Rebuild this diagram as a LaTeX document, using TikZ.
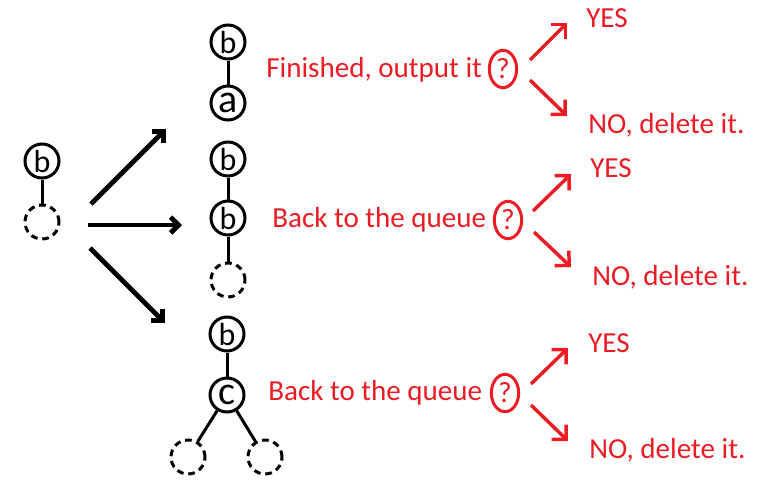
\documentclass[tikz,border=0pt]{standalone}
\usepackage{fontspec}
\setmainfont{Carlito}
\usetikzlibrary{arrows.meta,shapes.geometric}
\definecolor{pred}{RGB}{237,28,36}
\begin{document}
\begin{tikzpicture}[x=0.75pt,y=-0.75pt,
  tnode/.style={circle,draw=black,line width=2.25pt,minimum size=25.5pt,inner sep=0pt,
    font=\fontsize{24}{28}\selectfont},
  bigl/.style={font=\fontsize{30}{34}\selectfont},
  dnode/.style={circle,draw=black,line width=2.25pt,minimum size=25.5pt,inner sep=0pt,
    dash pattern=on 5pt off 3.6pt},
  edge/.style={line width=2.25pt},
  barrow/.style={line width=3.6pt,-{Straight Barb[angle=90:8.5pt]}},
  rarrow/.style={draw=pred,line width=2.6pt,-{Straight Barb[angle=90:11pt]}},
  qnode/.style={ellipse,draw=pred,line width=2.25pt,minimum width=20.5pt,minimum height=28pt,
    inner sep=0pt,text=pred,font=\fontsize{22}{26}\selectfont},
  rtext/.style={anchor=base west,inner sep=0pt,text=pred,font=\fontsize{21.8}{26}\selectfont}]
\useasboundingbox (0,0) rectangle (759,489);
% left tree
\node[tnode] (L1) at (42,161) {b};
\node[dnode] (L2) at (42,222) {};
\draw[edge] (L1) -- (L2);
% tree A
\node[tnode] (A1) at (228,42) {b};
\node[tnode,bigl] (A2) at (228,103) {a};
\draw[edge] (A1) -- (A2);
% tree B
\node[tnode] (B1) at (228,159) {b};
\node[tnode] (B2) at (228,218) {b};
\node[dnode] (B3) at (228,280) {};
\draw[edge] (B1) -- (B2);
\draw[edge] (B2) -- (B3);
% tree C
\node[tnode] (C1) at (227,334) {b};
\node[tnode,bigl] (C2) at (227,395) {c};
\node[dnode] (C3) at (188,457) {};
\node[dnode] (C4) at (265,457) {};
\draw[edge] (C1) -- (C2);
\draw[edge] (C2) -- (C3);
\draw[edge] (C2) -- (C4);
% black arrows
\coordinate (s1) at (91,204);  \coordinate (e1) at (166,129);
\coordinate (s2) at (88,225);  \coordinate (e2) at (182,225);
\coordinate (s3) at (90,248);  \coordinate (e3) at (165,323);
\draw[barrow] (s1) -- (e1);
\draw[barrow] (s2) -- (e2);
\draw[barrow] (s3) -- (e3);
% texts
\node[rtext] (t1) at (266,77) {Finished, output it};
\node[rtext] (t2) at (272,227) {Back to the queue};
\node[rtext] (t3) at (268,400) {Back to the queue};
\node[qnode] (q1) at (503,69) {?};
\node[qnode] (q2) at (508,220) {?};
\node[qnode] (q3) at (505,393) {?};
% red arrows
\coordinate (u1s) at (530,60);  \coordinate (u1e) at (567,23);
\coordinate (d1s) at (530,80);  \coordinate (d1e) at (567,116);
\coordinate (u2s) at (533,211); \coordinate (u2e) at (571,174);
\coordinate (d2s) at (534,232); \coordinate (d2e) at (571,267);
\coordinate (u3s) at (531,384); \coordinate (u3e) at (568,348);
\coordinate (d3s) at (531,405); \coordinate (d3e) at (568,441);
\draw[rarrow] (u1s) -- (u1e);
\draw[rarrow] (d1s) -- (d1e);
\draw[rarrow] (u2s) -- (u2e);
\draw[rarrow] (d2s) -- (d2e);
\draw[rarrow] (u3s) -- (u3e);
\draw[rarrow] (d3s) -- (d3e);
\node[rtext] (y1) at (586,27) {YES};
\node[rtext] (n1) at (588,133) {NO, delete it.};
\node[rtext] (y2) at (590,177) {YES};
\node[rtext] (n2) at (592,285) {NO, delete it.};
\node[rtext] (y3) at (588,352) {YES};
\node[rtext] (n3) at (589,458) {NO, delete it.};
\end{tikzpicture}
\end{document}
